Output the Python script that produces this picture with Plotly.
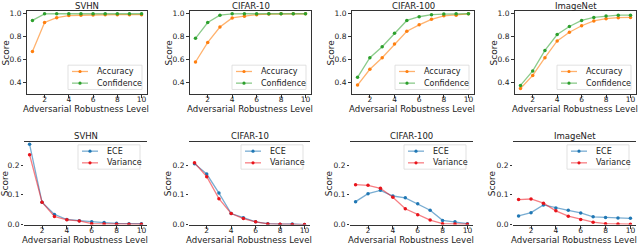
import plotly.graph_objects as go

levels = [1, 2, 3, 4, 5, 6, 7, 8, 9, 10]
datasets = ["SVHN", "CIFAR-10", "CIFAR-100", "ImageNet"]

# Top row: Accuracy / Confidence
accuracy = {
    "SVHN":     [0.67, 0.923, 0.964, 0.982, 0.985, 0.988, 0.99, 0.99, 0.99, 0.99],
    "CIFAR-10": [0.58, 0.75, 0.883, 0.962, 0.977, 0.99, 0.995, 0.997, 0.997, 0.997],
    "CIFAR-100": [0.38, 0.517, 0.617, 0.735, 0.846, 0.902, 0.95, 0.98, 0.986, 0.997],
    "ImageNet": [0.35, 0.464, 0.617, 0.763, 0.838, 0.894, 0.936, 0.955, 0.964, 0.966],
}
confidence = {
    "SVHN":     [0.94, 0.997, 0.998, 0.998, 0.998, 0.998, 0.998, 0.998, 0.998, 0.998],
    "CIFAR-10": [0.785, 0.922, 0.986, 0.997, 0.998, 0.998, 0.998, 0.998, 0.998, 0.998],
    "CIFAR-100": [0.447, 0.617, 0.712, 0.83, 0.94, 0.972, 0.99, 0.995, 0.997, 0.998],
    "ImageNet": [0.377, 0.503, 0.68, 0.818, 0.888, 0.94, 0.966, 0.978, 0.986, 0.986],
}
# Bottom row: ECE / Variance
ece = {
    "SVHN":     [0.27, 0.075, 0.034, 0.017, 0.013, 0.009, 0.0065, 0.004, 0.003, 0.003],
    "CIFAR-10": [0.205, 0.17, 0.106, 0.037, 0.023, 0.009, 0.003, 0.001, 0.002, 0.0],
    "CIFAR-100": [0.077, 0.104, 0.115, 0.096, 0.09, 0.07, 0.048, 0.014, 0.009, 0.003],
    "ImageNet": [0.029, 0.04, 0.066, 0.056, 0.048, 0.039, 0.026, 0.024, 0.022, 0.021],
}
variance = {
    "SVHN":     [0.235, 0.075, 0.027, 0.016, 0.012, 0.003, 0.002, 0.001, 0.001, 0.001],
    "CIFAR-10": [0.208, 0.161, 0.087, 0.037, 0.02, 0.009, 0.002, 0.001, 0.0, 0.0],
    "CIFAR-100": [0.134, 0.132, 0.122, 0.092, 0.053, 0.033, 0.015, 0.003, 0.002, 0.001],
    "ImageNet": [0.084, 0.086, 0.072, 0.046, 0.028, 0.017, 0.008, 0.003, 0.002, 0.001],
}

W, H = 640, 248
FONT = "DejaVu Sans"
TXT = "#222222"
SPINE = "#333333"

top_x_px = [(27, 147), (190, 311), (352, 474), (515, 636)]
bot_x_px = [(24, 147), (189, 310), (350, 473), (513, 636)]
top_y_px = (9, 95)
bot_y_px = (144, 229)

def px_x(v):
    return v / W

def px_y(v):
    return 1 - v / H

colors = {
    "Accuracy": ("#ff7f0e", "rgba(255,127,14,0.6)"),
    "Confidence": ("#2ca02c", "rgba(44,160,44,0.55)"),
    "ECE": ("#1f77b4", "rgba(31,119,180,0.6)"),
    "Variance": ("#e8141b", "rgba(240,20,30,0.55)"),
}

fig = go.Figure()
layout = dict(
    width=W, height=H,
    margin=dict(l=0, r=0, t=0, b=0),
    paper_bgcolor="white", plot_bgcolor="white",
    font=dict(family=FONT, size=8, color=TXT),
    showlegend=False,
)
annotations = []
shapes = []

def add_legend(names, right, top, width):
    # legend frame
    shapes.append(dict(
        type="rect", xref="paper", yref="paper",
        x0=px_x(right - width), x1=px_x(right), y0=px_y(top + 25), y1=px_y(top),
        fillcolor="rgba(255,255,255,0.85)", line=dict(color="#d9d9d9", width=0.8),
        layer="above",
    ))
    for k, name in enumerate(names):
        mc, lc = colors[name]
        cy = top + 6.5 + 12 * k
        lx0 = right - width + 4
        lx1 = lx0 + 16
        shapes.append(dict(
            type="line", xref="paper", yref="paper",
            x0=px_x(lx0), x1=px_x(lx1), y0=px_y(cy), y1=px_y(cy),
            line=dict(color=lc, width=1.3), layer="above",
        ))
        cx = (lx0 + lx1) / 2
        shapes.append(dict(
            type="circle", xref="paper", yref="paper",
            x0=px_x(cx - 1.6), x1=px_x(cx + 1.6), y0=px_y(cy + 1.6), y1=px_y(cy - 1.6),
            fillcolor=mc, line=dict(color=mc, width=0), layer="above",
        ))
        annotations.append(dict(
            text=name, x=px_x(lx1 + 7), y=px_y(cy), xref="paper", yref="paper",
            xanchor="left", yanchor="middle", showarrow=False,
            font=dict(size=8, color=TXT, family=FONT),
        ))

for row in range(2):
    for col, ds in enumerate(datasets):
        idx = row * 4 + col + 1
        sfx = "" if idx == 1 else str(idx)
        if row == 0:
            series = [("Accuracy", accuracy[ds]), ("Confidence", confidence[ds])]
            xa, xb = top_x_px[col]
            yt, yb = top_y_px
        else:
            series = [("ECE", ece[ds]), ("Variance", variance[ds])]
            xa, xb = bot_x_px[col]
            yt, yb = bot_y_px
        for name, vals in series:
            mc, lc = colors[name]
            fig.add_trace(go.Scatter(
                x=levels, y=vals, name=name, mode="lines+markers",
                line=dict(color=lc, width=1.3),
                marker=dict(color=mc, size=3.5),
                xaxis="x" + sfx, yaxis="y" + sfx,
            ))
        layout["xaxis" + sfx] = dict(
            domain=[px_x(xa), px_x(xb)], anchor="y" + sfx, range=[0.55, 10.45],
            tickvals=[2, 4, 6, 8, 10], showgrid=False, zeroline=False,
            showline=True, linecolor=SPINE, linewidth=1, mirror=True,
            ticks="outside", ticklen=3, tickwidth=0.8, tickcolor=SPINE,
            ticklabelstandoff=-5,
            tickfont=dict(size=7.5, color=TXT, family=FONT),
        )
        if row == 0:
            layout["yaxis" + sfx] = dict(
                domain=[px_y(yb), px_y(yt)], anchor="x" + sfx, range=[0.3, 1.024],
                tickvals=[0.4, 0.6, 0.8, 1.0], tickformat=".1f",
                showgrid=False, zeroline=False,
                showline=True, linecolor=SPINE, linewidth=1, mirror=True,
                ticks="outside", ticklen=3, tickwidth=0.8, tickcolor=SPINE,
                tickfont=dict(size=7.5, color=TXT, family=FONT),
            )
            add_legend([s[0] for s in series], xb - 5, yb - 30, 74)
            ty = 4.5
        else:
            layout["yaxis" + sfx] = dict(
                domain=[px_y(yb), px_y(yt)], anchor="x" + sfx, range=[0, 0.278],
                tickvals=[0.0, 0.1, 0.2], tickformat=".1f",
                showgrid=False, zeroline=False, showline=False,
                ticks="outside", ticklen=2, tickwidth=0.8, tickcolor=SPINE,
                tickfont=dict(size=7.5, color=TXT, family=FONT),
            )
            add_legend([s[0] for s in series], xb - 7, yt + 3, 62)
            ty = 138
        # subplot title
        annotations.append(dict(
            text=ds, x=px_x((xa + xb) / 2), y=px_y(ty), xref="paper", yref="paper",
            xanchor="center", yanchor="middle", showarrow=False,
            font=dict(size=8.5, color=TXT, family=FONT),
        ))
        # x axis title
        annotations.append(dict(
            text="Adversarial Robustness Level", x=px_x((xa + xb) / 2 - 1),
            y=px_y(yb + 15.5), xref="paper", yref="paper",
            xanchor="center", yanchor="middle", showarrow=False,
            font=dict(size=8.6, color=TXT, family=FONT),
        ))
        # y axis title
        annotations.append(dict(
            text="Score", x=px_x(max(xa - 21, 5)), y=px_y((yt + yb) / 2),
            xref="paper", yref="paper", textangle=-90,
            xanchor="center", yanchor="middle", showarrow=False,
            font=dict(size=9, color=TXT, family=FONT),
        ))

layout["annotations"] = annotations
layout["shapes"] = shapes
fig.update_layout(**layout)
fig.write_html(
    "out.html",
    config={"displayModeBar": False},
    post_script="document.body.style.margin='0';document.body.style.padding='0';",
)
